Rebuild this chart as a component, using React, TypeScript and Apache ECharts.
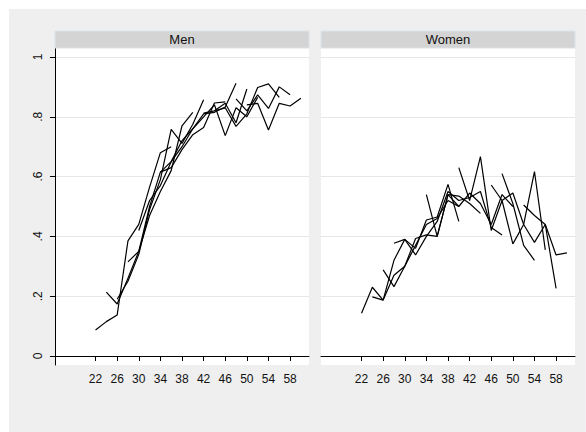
import React, { useEffect, useRef } from "react";
import * as echarts from "echarts";

const panelTitles = ["Men", "Women"];
const xTicks = [22, 26, 30, 34, 38, 42, 46, 50, 54, 58];
const yTicks = [0, 0.2, 0.4, 0.6, 0.8, 1];
const ageStep = 2;

// Men: each cohort line = start age + values every 2 years
const menStarts = [22, 24, 26, 28, 30, 34, 42, 44, 48, 50];
const menA = [0.087, 0.115, 0.137, 0.385, 0.44, 0.565, 0.68, 0.7];
const menB = [0.214, 0.174, 0.26, 0.35, 0.47, 0.55, 0.62, 0.77, 0.815];
const menC = [0.19, 0.25, 0.34, 0.49, 0.59, 0.758, 0.711, 0.775, 0.857];
const menD = [0.315, 0.35, 0.5, 0.615, 0.63, 0.69, 0.74, 0.764, 0.846, 0.85];
const menE = [0.42, 0.52, 0.57, 0.65, 0.72, 0.76, 0.81, 0.815, 0.833, 0.912];
const menF = [0.615, 0.65, 0.7, 0.76, 0.8, 0.84, 0.737, 0.83, 0.8, 0.865];
const menG = [0.8125, 0.82, 0.83, 0.768, 0.81, 0.898, 0.91, 0.865];
const menH = [0.82, 0.845, 0.78, 0.893];
const menI = [0.86, 0.82, 0.873, 0.828, 0.9, 0.874];
const menJ = [0.84, 0.845, 0.756, 0.845, 0.836, 0.862];
const menLines = [menA, menB, menC, menD, menE, menF, menG, menH, menI, menJ];

// Women
const womenStarts = [22, 24, 26, 28, 34, 40, 46, 48, 52];
const womenA = [0.143, 0.23, 0.187, 0.32, 0.39, 0.36, 0.455, 0.465, 0.574, 0.45];
const womenB = [0.198, 0.187, 0.27, 0.3, 0.393, 0.405, 0.4, 0.54, 0.535, 0.51, 0.477];
const womenC = [0.288, 0.232, 0.3, 0.37, 0.44, 0.46, 0.52, 0.5];
const womenD = [0.377, 0.39, 0.338, 0.4, 0.45, 0.55, 0.52, 0.53, 0.55, 0.43, 0.405];
const womenE = [0.54, 0.4, 0.54, 0.5, 0.545, 0.51, 0.44, 0.54, 0.5];
const womenF = [0.63, 0.52, 0.667, 0.42, 0.52, 0.375, 0.44, 0.617, 0.355];
const womenG = [0.572, 0.52, 0.545, 0.44, 0.38, 0.44, 0.226];
const womenH = [0.61, 0.51, 0.37, 0.32];
const womenI = [0.505, 0.47, 0.44, 0.338, 0.345];
const womenLines = [womenA, womenB, womenC, womenD, womenE, womenF, womenG, womenH, womenI];

const FONT = "'Liberation Sans', Arial, sans-serif";

function toPairs(start: number, vals: number[]) {
  return vals.map((v, i) => [start + i * ageStep, v]);
}

export default function App() {
  const ref = useRef<HTMLDivElement>(null);
  useEffect(() => {
    document.body.style.margin = "0";
    if (!ref.current) return;
    const chart = echarts.init(ref.current, null, { renderer: "svg" });
    const grids = [
      { left: 55, top: 48, width: 254, height: 317 },
      { left: 321, top: 48, width: 254, height: 317 },
    ];
    const xAxes = grids.map((_, i) => ({
      type: "value",
      gridIndex: i,
      min: 14.5,
      max: 61.5,
      axisLine: { show: true, lineStyle: { color: "#000", width: 1 } },
      axisTick: { show: true, length: 5, customValues: xTicks, lineStyle: { color: "#000" } },
      axisLabel: {
        show: true,
        customValues: xTicks,
        margin: 8,
        fontSize: 12,
        fontFamily: FONT,
        color: "#111",
        formatter: (v: number) => String(v),
      },
      splitLine: { show: false },
    }));
    const yAxes = grids.map((_, i) => ({
      type: "value",
      gridIndex: i,
      min: -0.03,
      max: 1.03,
      axisLine: { show: i === 0, lineStyle: { color: "#000", width: 1 } },
      axisTick: { show: i === 0, length: 5, customValues: yTicks, lineStyle: { color: "#000" } },
      axisLabel: {
        show: i === 0,
        customValues: yTicks,
        rotate: 90,
        margin: 11,
        fontSize: 12,
        fontFamily: FONT,
        color: "#111",
        formatter: (v: number) => (v === 0 ? "0" : v === 1 ? "1" : String(v).replace(/^0/, "")),
      },
      splitLine: { show: true, lineStyle: { color: "#e6e6e6", width: 1 } },
    }));
    const series: any[] = [];
    menLines.forEach((vals, k) => {
      series.push({
        type: "line",
        xAxisIndex: 0,
        yAxisIndex: 0,
        data: toPairs(menStarts[k], vals),
        showSymbol: false,
        symbol: "none",
        lineStyle: { color: "#000", width: 1.2 },
        silent: true,
      });
    });
    womenLines.forEach((vals, k) => {
      series.push({
        type: "line",
        xAxisIndex: 1,
        yAxisIndex: 1,
        data: toPairs(womenStarts[k], vals),
        showSymbol: false,
        symbol: "none",
        lineStyle: { color: "#000", width: 1.2 },
        silent: true,
      });
    });
    const headers: any[] = [];
    grids.forEach((g, i) => {
      headers.push({
        type: "rect",
        shape: { x: g.left, y: 31, width: g.width, height: 17 },
        style: { fill: "#d4d4d4", stroke: "#dde3e8", lineWidth: 1 },
        z: 10,
      });
      headers.push({
        type: "text",
        x: g.left + g.width / 2,
        y: 39.5,
        style: {
          text: panelTitles[i],
          fill: "#111",
          font: `13px ${FONT}`,
          align: "center",
          verticalAlign: "middle",
        },
        z: 11,
      });
    });
    chart.setOption({
      animation: false,
      backgroundColor: "#ffffff",
      graphic: [
        {
          type: "rect",
          shape: { x: 9, y: 9, width: 577, height: 423 },
          style: { fill: "#efefef" },
          z: -10,
          silent: true,
        },
        ...headers,
      ],
      grid: grids.map((g) => ({ ...g, show: true, backgroundColor: "#ffffff", borderWidth: 0, containLabel: false })),
      xAxis: xAxes,
      yAxis: yAxes,
      series,
    });
    return () => chart.dispose();
  }, []);
  return <div ref={ref} style={{ width: 586, height: 432 }} />;
}
